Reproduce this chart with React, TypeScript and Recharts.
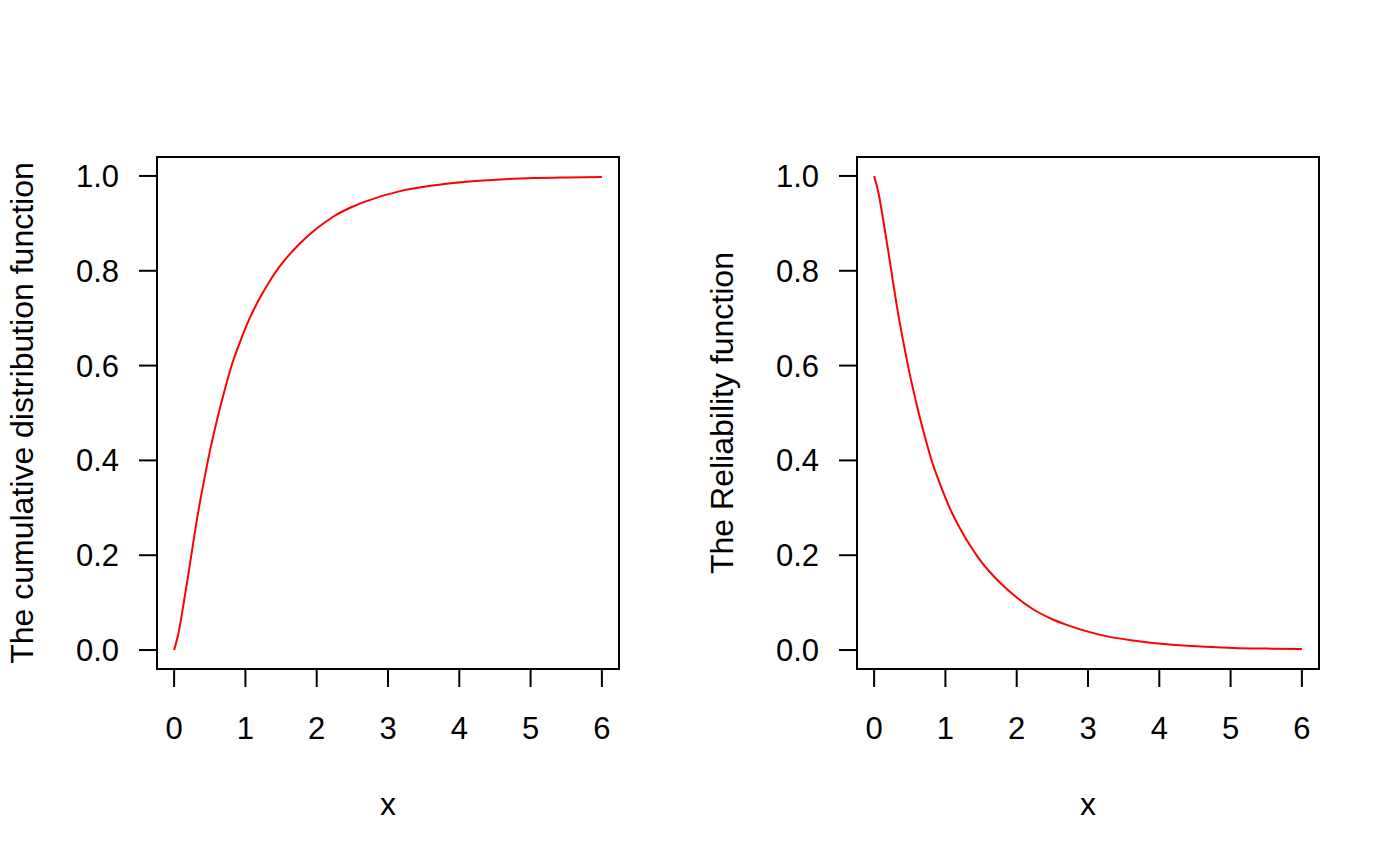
// CDF and reliability curves, two panels side by side
import React from "react";
import {
  LineChart,
  Line,
  XAxis,
  YAxis,
  ReferenceArea,
  Label,
} from "recharts";

// sample points along x
const xs = [
  0, 0.06, 0.13, 0.2, 0.27, 0.34, 0.41, 0.5, 0.6, 0.7, 0.8, 0.92, 1.06, 1.2,
  1.34, 1.47, 1.76, 2.0, 2.23, 2.5, 2.7, 3.17, 3.63, 4.1, 4.57, 5.04, 5.51, 6.0,
];

// left panel: cumulative distribution function
const cdfY = [
  0, 0.035, 0.095, 0.16, 0.228, 0.293, 0.35, 0.418, 0.484, 0.543, 0.597,
  0.648, 0.7, 0.742, 0.778, 0.807, 0.857, 0.889, 0.914, 0.935, 0.947, 0.968,
  0.98, 0.988, 0.9925, 0.9955, 0.997, 0.998,
];

// right panel: reliability function
const relY = [
  1.0, 0.965, 0.905, 0.84, 0.772, 0.707, 0.65, 0.582, 0.516, 0.457, 0.403,
  0.352, 0.3, 0.258, 0.222, 0.193, 0.143, 0.111, 0.086, 0.065, 0.053, 0.032,
  0.02, 0.012, 0.0075, 0.0045, 0.003, 0.002,
];

const xTicks = [0, 1, 2, 3, 4, 5, 6];
const yTicks = [0, 0.2, 0.4, 0.6, 0.8, 1.0];

const FONT = "'Liberation Sans', Arial, Helvetica, sans-serif";
const tickStyle = { fill: "#000", fontSize: 31, fontFamily: FONT };
const titleStyle = { fill: "#000", fontSize: 32, fontFamily: FONT };

function Panel({ ys, yTitle }: { ys: number[]; yTitle: string }) {
  const data = xs.map((x, i) => ({ x, y: ys[i] }));
  return (
    <LineChart
      width={700}
      height={866}
      data={data}
      margin={{ top: 157, right: 81, bottom: 37, left: 0 }}
    >
      <XAxis
        dataKey="x"
        type="number"
        domain={[-0.24, 6.24]}
        ticks={xTicks}
        axisLine={false}
        tickLine={{ stroke: "#000", strokeWidth: 2 }}
        tickSize={18}
        tickMargin={30}
        tick={tickStyle}
        height={160}
        interval={0}
      >
        <Label value="x" position="insideBottom" offset={14} style={titleStyle} />
      </XAxis>
      <YAxis
        type="number"
        domain={[-0.04, 1.04]}
        ticks={yTicks}
        tickFormatter={(v: number) => v.toFixed(1)}
        axisLine={false}
        tickLine={{ stroke: "#000", strokeWidth: 2 }}
        tickSize={18}
        tickMargin={20}
        tick={tickStyle}
        width={157}
        interval={0}
      >
        <Label
          value={yTitle}
          position="insideLeft"
          angle={-90}
          offset={22}
          style={{ ...titleStyle, textAnchor: "middle" }}
        />
      </YAxis>
      {/* plot frame */}
      <ReferenceArea
        x1={-0.24}
        x2={6.24}
        y1={-0.04}
        y2={1.04}
        fill="none"
        fillOpacity={0}
        stroke="#000"
        strokeWidth={2}
      />
      <Line
        type="monotone"
        dataKey="y"
        stroke="#ff0000"
        strokeWidth={2}
        dot={false}
        isAnimationActive={false}
      />
    </LineChart>
  );
}

export default function App() {
  return (
    <div
      style={{
        position: "fixed",
        left: 0,
        top: 0,
        width: 1400,
        height: 866,
        background: "#fff",
      }}
    >
      <div style={{ position: "absolute", left: 0, top: 0 }}>
        <Panel ys={cdfY} yTitle="The cumulative distribution function" />
      </div>
      <div style={{ position: "absolute", left: 700, top: 0 }}>
        <Panel ys={relY} yTitle="The Reliability function" />
      </div>
    </div>
  );
}
